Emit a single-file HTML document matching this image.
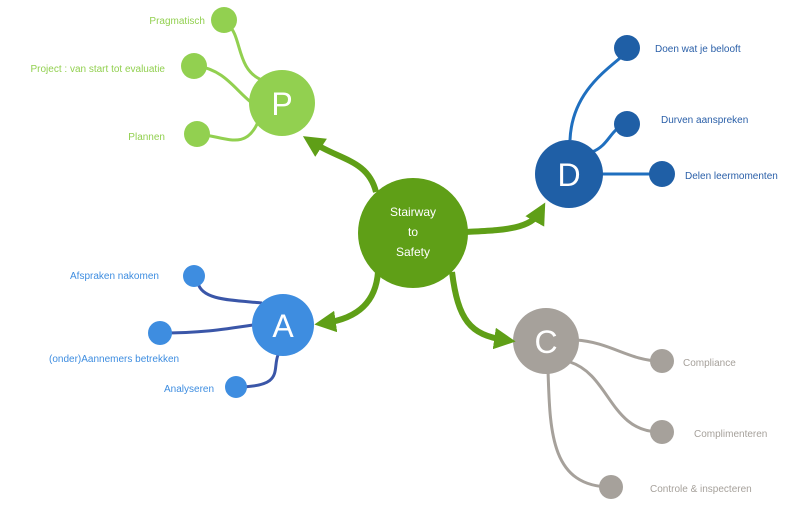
<!DOCTYPE html>
<html><head><style>
body{margin:0;background:#fff;width:800px;height:506px;overflow:hidden}
svg{display:block}
text{font-family:"Liberation Sans",sans-serif}
</style></head><body>
<svg width="800" height="506" viewBox="0 0 800 506">
<defs>
<marker id="ah" viewBox="0 0 10 10" refX="5" refY="5" markerWidth="3.6" markerHeight="3.6" orient="auto"><path d="M0,0 L10,5 L0,10 z" fill="#5f9f17"/></marker>
</defs>
<!-- P branches -->
<g fill="none" stroke="#92d050" stroke-width="3">
<path d="M228,25 C242,35 236,70 262,80"/>
<path d="M197,66 C225,70 235,90 252,103"/>
<path d="M197,134 C225,136 245,152 258,122"/>
</g>
<g fill="#92d050"><circle cx="224" cy="20" r="13"/><circle cx="194" cy="66" r="13"/><circle cx="197" cy="134" r="13"/><circle cx="282" cy="103" r="33"/></g>
<text x="282" y="115" font-size="32" fill="#fff" text-anchor="middle">P</text>
<g font-size="10" fill="#92d050" text-anchor="end"><text x="205" y="24">Pragmatisch</text><text x="165" y="72">Project : van start tot evaluatie</text><text x="165" y="140">Plannen</text></g>
<!-- D branches -->
<g fill="none" stroke="#1f6fbf" stroke-width="3">
<path d="M570,140 C572,90 610,68 627,52"/>
<path d="M592,152 C610,145 610,128 627,124"/>
<path d="M600,174 L662,174"/>
</g>
<g fill="#1f5fa6"><circle cx="627" cy="48" r="13"/><circle cx="627" cy="124" r="13"/><circle cx="662" cy="174" r="13"/><circle cx="569" cy="174" r="34"/></g>
<text x="569" y="186" font-size="32" fill="#fff" text-anchor="middle">D</text>
<g font-size="10" fill="#2a5fa8"><text x="655" y="52">Doen wat je belooft</text><text x="661" y="123">Durven aanspreken</text><text x="685" y="179">Delen leermomenten</text></g>
<!-- A branches -->
<g fill="none" stroke="#3a56a8" stroke-width="3">
<path d="M198,283 C202,300 230,300 262,303"/>
<path d="M160,333 C200,333 220,330 253,325"/>
<path d="M236,387 C285,387 272,370 278,355"/>
</g>
<g fill="#3e8de0"><circle cx="194" cy="276" r="11"/><circle cx="160" cy="333" r="12"/><circle cx="236" cy="387" r="11"/><circle cx="283" cy="325" r="31"/></g>
<text x="283" y="337" font-size="32" fill="#fff" text-anchor="middle">A</text>
<g font-size="10" fill="#3e8de0"><text x="70" y="279">Afspraken nakomen</text><text x="49" y="362">(onder)Aannemers betrekken</text><text x="164" y="392">Analyseren</text></g>
<!-- C branches -->
<g fill="none" stroke="#a6a19b" stroke-width="3">
<path d="M576,340 C610,342 630,361 660,361"/>
<path d="M570,362 C610,375 610,432 660,432"/>
<path d="M548,370 C550,430 550,487 611,487"/>
</g>
<g fill="#a6a19b"><circle cx="662" cy="361" r="12"/><circle cx="662" cy="432" r="12"/><circle cx="611" cy="487" r="12"/><circle cx="546" cy="341" r="33"/></g>
<text x="546" y="353" font-size="32" fill="#fff" text-anchor="middle">C</text>
<g font-size="10" fill="#a6a19b"><text x="683" y="366">Compliance</text><text x="694" y="437">Complimenteren</text><text x="650" y="492">Controle &amp; inspecteren</text></g>
<!-- green arrows -->
<g fill="none" stroke="#5f9f17" stroke-width="6" marker-end="url(#ah)">
<path d="M376,192 C368,160 340,160 312,142"/>
<path d="M466,232 C500,230 530,230 540,212"/>
<path d="M378,272 C376,300 360,318 325,323"/>
<path d="M452,272 C458,320 470,335 505,340"/>
</g>
<circle cx="413" cy="233" r="55" fill="#5f9f17"/>
<g font-size="12" fill="#fff" text-anchor="middle"><text x="413" y="216">Stairway</text><text x="413" y="236">to</text><text x="413" y="256">Safety</text></g>
</svg>
</body></html>
